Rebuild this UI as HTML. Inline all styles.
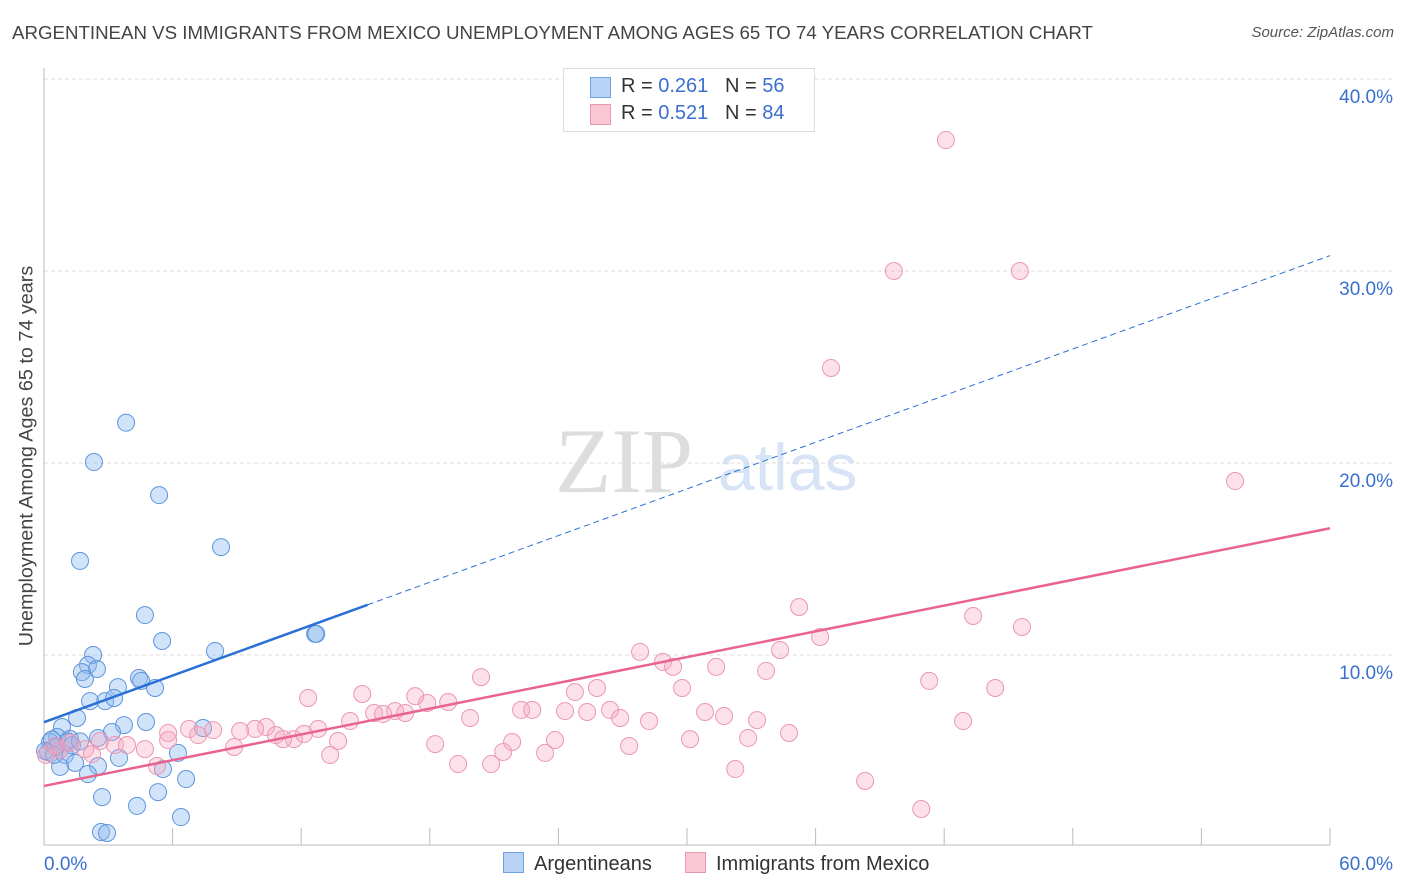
<!DOCTYPE html>
<html><head><meta charset="utf-8"><style>
body{margin:0;background:#fff;font-family:"Liberation Sans",sans-serif;}
#wrap{position:relative;width:1406px;height:892px;overflow:hidden;}
.t{position:absolute;white-space:nowrap;}
</style></head><body>
<div id="wrap">
<div class="t" style="left:12px;top:22px;font-size:18.7px;color:#444;">ARGENTINEAN VS IMMIGRANTS FROM MEXICO UNEMPLOYMENT AMONG AGES 65 TO 74 YEARS CORRELATION CHART</div>
<div class="t" style="right:12px;top:24px;font-size:15px;color:#555;font-style:italic;">Source: ZipAtlas.com</div>
<div class="t" style="left:27px;top:456px;font-size:19.8px;color:#444;transform:translate(-50%,-50%) rotate(-90deg);">Unemployment Among Ages 65 to 74 years</div>
<svg id="svg" width="1406" height="892" style="position:absolute;left:0;top:0"></svg>
<div class="t" style="left:563px;top:68px;width:250px;height:62px;border:1px solid #ddd;background:#fff;font-size:20px;color:#333;">
 <div style="position:absolute;left:26px;top:8px;width:19px;height:19px;background:#b8d3f5;border:1px solid #6fa0e0;"></div>
 <div style="position:absolute;left:57px;top:6px;">R = <span style="color:#3a6fd0">0.261</span>&nbsp;&nbsp;&nbsp;N = <span style="color:#3a6fd0">56</span></div>
 <div style="position:absolute;left:26px;top:35px;width:19px;height:19px;background:#f9c6d4;border:1px solid #ec97b0;"></div>
 <div style="position:absolute;left:57px;top:33px;">R = <span style="color:#3a6fd0">0.521</span>&nbsp;&nbsp;&nbsp;N = <span style="color:#3a6fd0">84</span></div>
</div>
<div class="t" style="left:503px;top:852px;font-size:20px;color:#333;"><span style="display:inline-block;width:19px;height:19px;background:#b8d3f5;border:1px solid #6fa0e0;vertical-align:-3px;margin-right:10px;"></span>Argentineans</div>
<div class="t" style="left:685px;top:852px;font-size:20px;color:#333;"><span style="display:inline-block;width:19px;height:19px;background:#f9c6d4;border:1px solid #ec97b0;vertical-align:-3px;margin-right:10px;"></span>Immigrants from Mexico</div>
</div>
<script>
const xTicks=[0,60];
const yTicks=[10,20,30,40];
const blueX=[3.83,2.33,5.37,1.68,8.26,4.71,5.51,7.98,2.29,2.05,2.47,1.77,1.91,4.43,4.53,5.18,3.45,2.85,2.15,3.27,1.54,4.76,3.73,7.42,0.84,3.17,2.52,0.61,1.21,0.28,0.75,0.19,0.98,6.25,3.5,1.45,2.52,0.75,5.55,2.05,6.63,2.71,5.32,4.34,6.39,2.66,2.94,12.65,12.7,0.37,0.56,1.12,0.05,0.47,1.31,1.68];
const blueY=[22.1,20.05,18.33,14.9,15.62,12.08,10.73,10.21,10.0,9.48,9.27,9.11,8.75,8.8,8.65,8.28,8.33,7.6,7.6,7.76,6.72,6.51,6.35,6.2,6.25,5.99,5.68,5.73,5.63,5.47,5.05,4.95,4.79,4.9,4.64,4.38,4.22,4.17,4.06,3.8,3.54,2.6,2.86,2.14,1.56,0.78,0.73,11.1,11.1,5.6,5.2,5.5,5.0,4.8,5.3,5.5];
const pinkX=[42.08,39.65,45.53,36.72,55.57,35.23,43.35,45.63,36.21,27.81,28.88,29.35,34.34,31.36,33.69,20.39,41.3,44.38,29.77,25.8,24.77,12.32,14.85,17.32,18.86,17.88,19.88,22.26,22.78,26.41,25.34,24.31,16.38,16.85,15.4,15.82,26.88,28.23,30.84,31.73,33.27,42.88,14.28,12.79,10.36,9.85,9.15,7.89,5.79,6.77,7.19,10.82,11.66,11.15,12.13,13.72,18.25,21.84,23.84,27.3,30.14,32.85,34.76,2.61,3.31,3.87,4.71,5.79,8.87,21.42,23.38,13.35,5.27,19.32,20.86,32.25,38.31,40.93,0.75,1.92,1.21,0.51,0.09,2.24];
const pinkY=[36.82,30.0,30.0,24.95,19.06,12.5,12.03,11.46,10.94,10.16,9.64,9.38,10.26,9.38,9.17,8.85,8.65,8.28,8.28,8.28,8.07,7.76,7.97,7.86,7.55,7.5,6.72,7.14,7.14,7.14,7.03,7.08,7.08,6.98,6.98,6.93,6.72,6.56,7.03,6.82,6.61,6.56,6.56,6.15,6.25,6.15,6.04,6.09,5.94,6.15,5.83,5.83,5.62,5.62,5.89,5.52,5.36,5.47,5.57,5.26,5.62,5.68,5.94,5.52,5.31,5.31,5.1,5.57,5.21,4.95,4.9,4.79,4.22,4.32,4.32,4.06,3.44,1.98,5.05,5.1,5.42,5.26,4.79,4.84];
const blueLine=[6.5,30.8], pinkLine=[3.18,16.6];
const X0=44,X1=1330,Y0=847,PY=19.2;
const sx=v=>X0+(X1-X0)*v/60, sy=v=>Y0-v*PY;
const svg=document.getElementById('svg'),NS='http://www.w3.org/2000/svg';
function mk(t,a){const e=document.createElementNS(NS,t);for(const k in a)e.setAttribute(k,a[k]);svg.appendChild(e);return e;}
let wm=mk('text',{x:555,y:492,'font-size':92,fill:'#ddd','font-family':'Liberation Serif, serif'});wm.textContent='ZIP';


let wm2=mk('text',{x:718,y:490,'font-size':66,fill:'#d6e4f5','font-family':'Liberation Sans, sans-serif'});wm2.textContent='atlas';


yTicks.forEach(v=>{
 const g=mk('line',{x1:X0,x2:1394,y1:sy(v),y2:sy(v),stroke:'#ddd','stroke-dasharray':'4,3'});
 
 
 const t=mk('text',{x:1393,y:sy(v)+24,'text-anchor':'end','font-size':19,fill:'#3a6fd0','font-family':'Liberation Sans, sans-serif'});
 t.textContent=v.toFixed(1)+'%';
 
 
});
mk('line',{x1:X0,x2:X0,y1:68,y2:845,stroke:'#bbb'});
mk('line',{x1:X0,x2:X1,y1:845,y2:845,stroke:'#bbb'});
for(let i=0;i<=10;i++){const x=sx(i*6);const l=mk('line',{x1:x,x2:x,y1:828,y2:845,stroke:'#bbb'});}
xTicks.forEach((v,i)=>{const t=mk('text',{x:i?1393:44,y:870,'text-anchor':i?'end':'start','font-size':19,fill:'#3a6fd0','font-family':'Liberation Sans, sans-serif'});t.textContent=v.toFixed(1)+'%';
 
 });
blueX.forEach((v,i)=>{const c=mk('circle',{cx:sx(v),cy:sy(blueY[i]),r:8.5,fill:'rgba(140,185,240,0.4)',stroke:'#5f95dc','stroke-width':1});
 
 });
pinkX.forEach((v,i)=>{const c=mk('circle',{cx:sx(v),cy:sy(pinkY[i]),r:8.5,fill:'rgba(245,170,195,0.35)',stroke:'#ec97b0','stroke-width':1});
 
 });
const bAt=x=>blueLine[0]+(blueLine[1]-blueLine[0])*x/60;
let bl=mk('line',{x1:sx(0),y1:sy(bAt(0)),x2:sx(15.1),y2:sy(bAt(15.1)),stroke:'#2a6fd6','stroke-width':2.5});


let bd=mk('line',{x1:sx(15.1),y1:sy(bAt(15.1)),x2:sx(60),y2:sy(bAt(60)),stroke:'#2a6fd6','stroke-width':1,'stroke-dasharray':'6,4'});


let pl=mk('line',{x1:sx(0),y1:sy(pinkLine[0]),x2:sx(60),y2:sy(pinkLine[1]),stroke:'#e8648f','stroke-width':2.5});


</script>
</body></html>
